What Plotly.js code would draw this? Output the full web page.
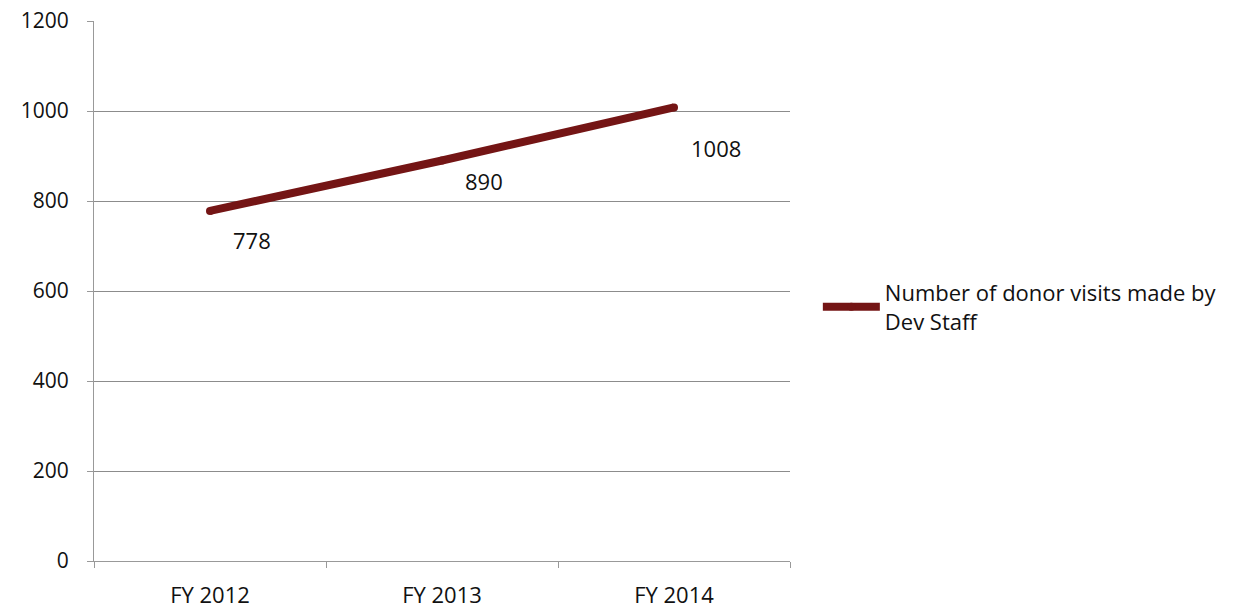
<!DOCTYPE html>
<html><head><meta charset="utf-8">
<script src="https://cdn.plot.ly/plotly-3.0.1.min.js"></script>
<style>body{margin:0;background:#fff}#c{width:1236px;height:608px}</style>
</head><body><div id="c"></div>
<script>
const categories = ["FY 2012", "FY 2013", "FY 2014"];
const visits = [778, 890, 1008];
const seriesName = "Number of donor visits made by<br>Dev Staff";
const yTicks = [0, 200, 400, 600, 800, 1000, 1200];

const fam = "'Open Sans', sans-serif";
const yFont = {family: fam, size: 21, color: "#111"};
const xFont = {family: fam, size: 22, color: "#111"};
const labelFont = {family: fam, size: 22, color: "#111"};
const legendFont = {family: fam, size: 22, color: "#111"};
const labelYShift = [-29, -20, -41];
const annotations = categories.map((c, i) => ({
  x: c, y: visits[i], text: String(visits[i]), showarrow: false,
  xshift: 42, yshift: labelYShift[i], font: labelFont
}));

Plotly.newPlot("c", [{
  x: categories, y: visits, type: "scatter", mode: "lines+markers", name: seriesName,
  line: {color: "#741515", width: 8},
  marker: {color: "#741515", size: 8, symbol: "circle"}
}], {
  width: 1236, height: 608,
  margin: {l: 94, r: 446, t: 21, b: 47},
  paper_bgcolor: "#fff", plot_bgcolor: "#fff",
  font: yFont,
  showlegend: true,
  legend: {x: 1.04, y: 0.47, yanchor: "middle", xanchor: "left", font: legendFont, bgcolor: "rgba(0,0,0,0)", itemwidth: 57},
  xaxis: {
    type: "category", range: [-0.5, 2.5], tickson: "boundaries",
    ticks: "outside", ticklen: 6, tickcolor: "#999",
    showline: true, linecolor: "#999", linewidth: 1, showgrid: false, zeroline: false,
    tickfont: xFont, ticklabelstandoff: 15
  },
  yaxis: {
    range: [0, 1200], tickvals: yTicks, ticktext: yTicks.map(String),
    ticks: "outside", ticklen: 6, tickcolor: "#999",
    showline: true, linecolor: "#999", showgrid: true, gridcolor: "#8c8c8c", gridwidth: 1,
    zeroline: false, tickfont: yFont, ticklabelstandoff: 14
  },
  annotations: annotations
}, {displayModeBar: false, staticPlot: true});
</script></body></html>
